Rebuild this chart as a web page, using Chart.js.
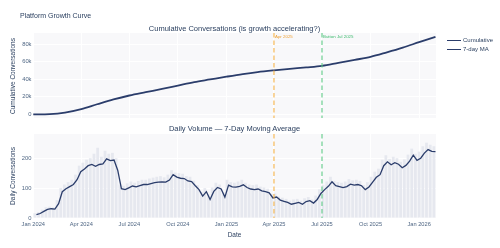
<!DOCTYPE html>
<html>
<head>
<meta charset="utf-8">
<script src="https://cdn.jsdelivr.net/npm/chart.js@4.4.1/dist/chart.umd.min.js"></script>
<style>
  body { margin: 0; background: #fff; font-family: "Liberation Sans", Arial, sans-serif; color: #2a3f5f; }
  #wrap { position: relative; width: 500px; height: 248px; overflow: hidden; }
  canvas { position: absolute; left: 0; }
  .t { position: absolute; white-space: nowrap; line-height: 1; }
  .mid { transform: translateX(-50%); }
  .rot { transform: translate(-50%, -50%) rotate(-90deg); }
  .sw { position: absolute; height: 0; border-top: 1.6px solid #2b3d6b; width: 14px; }
</style>
</head>
<body>
<div id="wrap">
  <canvas id="cum" width="500" height="125" style="top:0"></canvas>
  <canvas id="daily" width="500" height="123" style="top:125px"></canvas>

  <div class="t" style="left:20px;top:11.5px;font-size:7px">Platform Growth Curve</div>
  <div class="t mid" style="left:234.5px;top:24.5px;font-size:7.5px">Cumulative Conversations (is growth accelerating?)</div>
  <div class="t mid" style="left:234.5px;top:124.5px;font-size:7.5px">Daily Volume — 7-Day Moving Average</div>
  <div class="t mid" style="left:234.5px;top:232px;font-size:6.5px">Date</div>
  <div class="t rot" style="left:12.5px;top:75.5px;font-size:6.5px">Cumulative Conversations</div>
  <div class="t rot" style="left:12.5px;top:176px;font-size:6.5px">Daily Conversations</div>

  <div class="sw" style="left:447px;top:39.5px"></div>
  <div class="t" style="left:463px;top:37px;font-size:6px">Cumulative</div>
  <div class="sw" style="left:447px;top:48.8px;border-top-width:1.3px"></div>
  <div class="t" style="left:463px;top:46.3px;font-size:6px">7-day MA</div>
</div>

<script>
// cumulative conversations, read at the start of each month
const cumDates = ['2024-01-01', '2024-02-01', '2024-03-01', '2024-04-01', '2024-05-01', '2024-06-01',
  '2024-07-01', '2024-08-01', '2024-09-01', '2024-10-01', '2024-11-01', '2024-12-01',
  '2025-01-01', '2025-02-01', '2025-03-01', '2025-04-01', '2025-05-01', '2025-06-01',
  '2025-07-01', '2025-08-01', '2025-09-01', '2025-10-01', '2025-11-01', '2025-12-01',
  '2026-01-01', '2026-02-01'];
const cumValues = [0, 300, 2000, 6000, 11500, 17000, 21500, 25300, 29000, 32800, 36700, 39800,
  43000, 46000, 48300, 50300, 52000, 53600, 55400, 58800, 62200, 65600, 70800, 76200,
  82400, 88500];

// 7-day moving average, read once a week starting 2024-01-07
const maStart = '2024-01-07';
const movingAvg = [11, 15, 22, 29, 31, 30, 48, 88, 98, 105,
  112, 128, 155, 164, 175, 179, 173, 179, 181, 198,
  192, 194, 160, 98, 95, 101, 107, 104, 108, 112,
  112, 115, 118, 120, 121, 120, 127, 145, 137, 133,
  132, 124, 122, 108, 95, 73, 88, 62, 89, 102,
  97, 70, 110, 104, 103, 106, 111, 102, 97, 95,
  97, 91, 88, 84, 67, 70, 60, 56, 52, 46,
  49, 52, 46, 55, 58, 50, 62, 82, 95, 106,
  121, 108, 105, 102, 105, 113, 110, 112, 108, 95,
  104, 120, 136, 145, 175, 188, 178, 185, 180, 168,
  176, 190, 210, 193, 200, 217, 229, 223, 222];

// daily volume bars (typical daily height per week), centred mid-week from 2024-01-04
const barStart = '2024-01-04';
const dailyVolume = [16, 20, 28, 36, 38, 36, 60, 100, 112, 120,
  128, 145, 175, 185, 195, 200, 215, 235, 205, 225,
  215, 218, 200, 112, 108, 116, 122, 118, 124, 128,
  128, 132, 135, 138, 140, 136, 145, 160, 152, 150,
  148, 140, 138, 125, 110, 88, 100, 78, 102, 118,
  112, 85, 128, 120, 118, 122, 128, 118, 112, 110,
  112, 105, 102, 98, 80, 82, 72, 68, 64, 58,
  62, 64, 58, 66, 70, 62, 75, 96, 110, 122,
  138, 124, 120, 118, 122, 130, 126, 128, 124, 110,
  120, 138, 155, 165, 195, 210, 198, 205, 200, 188,
  196, 212, 232, 215, 222, 240, 252, 245, 240];

const tickDates = ['2024-01-01', '2024-04-01', '2024-07-01', '2024-10-01', '2025-01-01',
  '2025-04-01', '2025-07-01', '2025-10-01', '2026-01-01'];
const tickLabels = ['Jan 2024', 'Apr 2024', 'Jul 2024', 'Oct 2024', 'Jan 2025',
  'Apr 2025', 'Jul 2025', 'Oct 2025', 'Jan 2026'];
const cumTicks = [0, 20000, 40000, 60000, 80000];
const dailyTicks = [0, 100, 200];

const eventDates = ['2025-04-01', '2025-07-01'];
const eventLabels = ['Apr 2025', 'Button Jul 2025'];
const eventLine = ['rgba(245,176,65,0.75)', 'rgba(88,200,130,0.75)'];
const eventText = ['#eea236', '#3dbb6e'];

const day0 = Date.parse('2024-01-01');
const day = s => (Date.parse(s) - day0) / 86400000;
const tickDays = tickDates.map(day);

const NAVY = '#2b3d6b';
const FONT = '"Liberation Sans", Arial, sans-serif';

const plotBg = {
  id: 'plotBg',
  beforeDraw(chart) {
    const a = chart.chartArea, ctx = chart.ctx;
    ctx.save();
    ctx.fillStyle = '#f8f8fa';
    ctx.fillRect(a.left, a.top, a.right - a.left, a.bottom - a.top);
    ctx.restore();
  }
};

const events = {
  id: 'events',
  afterDatasetsDraw(chart, args, opts) {
    const x = chart.scales.x, a = chart.chartArea, ctx = chart.ctx;
    eventDates.forEach((d, i) => {
      const px = x.getPixelForValue(day(d));
      ctx.save();
      ctx.strokeStyle = eventLine[i];
      ctx.lineWidth = 1.4;
      ctx.setLineDash([4.5, 3]);
      ctx.beginPath();
      ctx.moveTo(px, a.top);
      ctx.lineTo(px, a.bottom);
      ctx.stroke();
      if (opts.labels) {
        ctx.fillStyle = eventText[i];
        ctx.font = '4.4px ' + FONT;
        ctx.textBaseline = 'middle';
        ctx.fillText(eventLabels[i], px + 1, a.top + 3.5);
      }
      ctx.restore();
    });
  }
};

function xScale(showTicks) {
  return {
    type: 'linear',
    offset: false,
    min: -0.5,
    max: 763,
    afterBuildTicks: s => { s.ticks = tickDays.map(v => ({ value: v })); },
    afterFit: s => { s.height = showTicks ? 12 : 0; },
    border: { display: false },
    grid: { color: '#ffffff', lineWidth: 1, drawTicks: false, offset: false },
    ticks: {
      display: showTicks,
      autoSkip: false,
      maxRotation: 0,
      padding: 3,
      color: '#506784',
      font: { size: 5.7, family: FONT },
      callback: (v, i) => tickLabels[i]
    }
  };
}

function yScale(min, max, vals, fmt) {
  return {
    min: min,
    max: max,
    afterBuildTicks: s => { s.ticks = vals.map(v => ({ value: v })); },
    afterFit: s => { s.width = 33; },
    border: { display: false },
    grid: { color: '#ffffff', lineWidth: 1, drawTicks: false },
    ticks: {
      padding: 1.5,
      color: '#506784',
      font: { size: 5.8, family: FONT },
      callback: fmt
    }
  };
}

new Chart(document.getElementById('cum'), {
  type: 'line',
  data: {
    datasets: [{
      data: cumDates.map((d, i) => ({ x: day(d), y: cumValues[i] })),
      borderColor: NAVY,
      borderWidth: 1.8,
      pointRadius: 0,
      cubicInterpolationMode: 'monotone'
    }]
  },
  options: {
    responsive: false,
    animation: false,
    layout: { padding: { top: 33, right: 64, bottom: 7, left: 0 } },
    plugins: { legend: { display: false }, tooltip: { enabled: false }, events: { labels: true } },
    scales: {
      x: xScale(false),
      y: yScale(-4200, 92900, cumTicks, v => v === 0 ? '0' : (v / 1000) + 'k')
    }
  },
  plugins: [plotBg, events]
});

new Chart(document.getElementById('daily'), {
  data: {
    datasets: [{
      type: 'line',
      order: 1,
      data: movingAvg.map((v, i) => ({ x: day(maStart) + 7 * i, y: v })),
      borderColor: NAVY,
      borderWidth: 1.3,
      pointRadius: 0,
      tension: 0
    }, {
      type: 'bar',
      order: 2,
      data: dailyVolume.map((v, i) => ({ x: day(barStart) + 7 * i, y: v })),
      backgroundColor: '#e6e8ef',
      barPercentage: 0.75,
      categoryPercentage: 1
    }]
  },
  options: {
    responsive: false,
    animation: false,
    layout: { padding: { top: 9, right: 64, bottom: 18, left: 0 } },
    plugins: { legend: { display: false }, tooltip: { enabled: false }, events: { labels: false } },
    scales: {
      x: xScale(true),
      y: yScale(0, 281, dailyTicks, v => String(v))
    }
  },
  plugins: [plotBg, events]
});
</script>
</body>
</html>
